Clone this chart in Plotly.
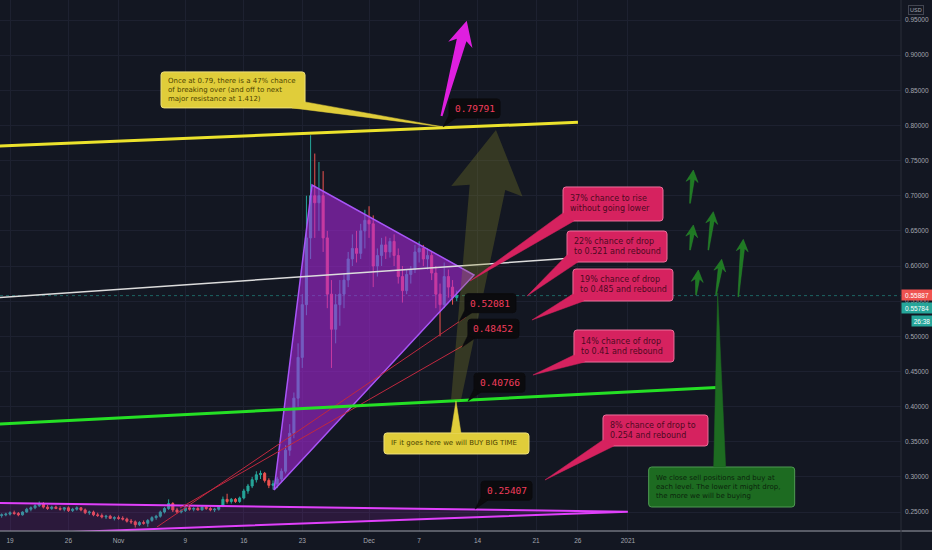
import math
import pandas as pd
import plotly.graph_objects as go

# ---------------- price data: 12h candles, XRP/USD ----------------
candle_open = [
    .246, .245, .246, .247, .249, .248, .246, .250, .254, .256, .259,
    .262, .257, .255, .257, .255, .254, .256, .252, .254, .256,
    .253, .249, .250, .246, .245, .243, .244, .241, .242, .241,
    .240, .237, .236, .232, .235, .234, .238, .242, .244, .250,
    .255, .262, .253, .250, .252, .256, .254, .255, .253, .257,
    .255, .253, .254, .258, .268, .265, .268, .265, .270, .280,
    .287, .296, .303, .305, .295, .288,
    .290, .297, .308, .338, .362, .412, .470, .545, .640, .700, .690, .700, .640, .560, .510,
    .545, .560, .580, .610, .625, .618, .650, .665, .660, .600, .615, .630, .620, .635, .615,
    .585, .565, .588, .595, .620, .625, .610, .615, .590, .560, .545, .585, .570, .555]
candle_high = [
    .248, .248, .249, .251, .252, .250, .251, .256, .258, .261, .265,
    .264, .260, .259, .259, .258, .257, .258, .256, .258, .257,
    .255, .252, .252, .249, .248, .246, .246, .244, .245, .244,
    .242, .240, .238, .237, .238, .240, .244, .246, .252, .257,
    .268, .264, .256, .254, .258, .260, .257, .258, .258, .259,
    .257, .256, .260, .272, .276, .270, .270, .272, .283, .290,
    .300, .308, .309, .307, .298, .295,
    .300, .312, .345, .375, .420, .490, .560, .700, .786, .760, .748, .735, .650, .580, .560,
    .580, .590, .620, .645, .650, .660, .680, .685, .672, .625, .640, .642, .640, .645, .625,
    .600, .595, .600, .630, .635, .630, .625, .620, .600, .575, .605, .595, .580, .565]
candle_low = [
    .243, .242, .244, .245, .246, .244, .245, .249, .251, .254, .257,
    .255, .253, .253, .254, .252, .251, .250, .250, .252, .251,
    .247, .246, .244, .243, .241, .240, .240, .238, .239, .238,
    .235, .233, .228, .230, .232, .229, .236, .239, .242, .248,
    .253, .250, .248, .248, .250, .252, .251, .252, .252, .253,
    .251, .250, .252, .257, .262, .262, .263, .263, .268, .276,
    .284, .292, .297, .292, .284, .282,
    .284, .293, .305, .330, .355, .400, .455, .530, .610, .640, .650, .620, .540, .455, .490,
    .515, .540, .570, .600, .605, .610, .625, .640, .570, .585, .600, .610, .612, .600, .575,
    .548, .560, .575, .590, .605, .600, .595, .580, .540, .500, .540, .555, .545, .550]
candle_close = [
    .245, .246, .247, .249, .248, .246, .250, .254, .256, .259, .262,
    .257, .255, .257, .255, .254, .256, .252, .254, .256, .253,
    .249, .250, .246, .245, .243, .244, .241, .242, .241, .240,
    .237, .236, .232, .235, .234, .238, .242, .244, .250, .255,
    .262, .253, .250, .252, .256, .254, .255, .253, .257, .255,
    .253, .254, .258, .268, .265, .268, .265, .270, .280, .287,
    .296, .303, .305, .295, .288, .290,
    .297, .308, .338, .362, .412, .470, .545, .640, .700, .690, .700, .640, .560, .510, .545,
    .560, .580, .610, .625, .618, .650, .665, .660, .600, .615, .630, .620, .635, .615, .585,
    .565, .588, .595, .620, .625, .610, .615, .590, .560, .545, .585, .570, .555, .558]
candle_time = pd.date_range("2020-10-17 12:00", periods=len(candle_close), freq="12h")

date_tick_values = ["2020-10-19", "2020-10-26", "2020-11-01", "2020-11-09", "2020-11-16",
                    "2020-11-23", "2020-12-01", "2020-12-07", "2020-12-14", "2020-12-21",
                    "2020-12-26", "2021-01-01"]
date_tick_labels = ["19", "26", "Nov", "9", "16", "23", "Dec", "7", "14", "21", "26", "2021"]
price_tick_values = [0.25, 0.30, 0.35, 0.40, 0.45, 0.50, 0.55, 0.60, 0.65, 0.70, 0.75,
                     0.80, 0.85, 0.90, 0.95]
price_tick_labels = ["0.25000", "0.30000", "0.35000", "0.40000", "0.45000", "0.50000",
                     "0.55000", "0.60000", "0.65000", "0.70000", "0.75000", "0.80000",
                     "0.85000", "0.90000", "0.95000"]
last_price = 0.55784
ask_price = 0.55887
bar_countdown = "26:38"

# ---------------- drawings (in data coordinates) ----------------
resistance_line = [("2020-10-15 00:00", 0.7694), ("2020-12-26 00:30", 0.8045)]
mid_line = [("2020-10-15 00:00", 0.5528), ("2020-12-25 21:36", 0.6117)]
support_line = [("2020-10-15 00:00", 0.3735), ("2021-01-11 15:07", 0.4272)]
channel_upper = [("2020-11-05 14:24", 0.2287), ("2020-12-12 14:38", 0.5275)]
channel_lower = [("2020-11-08 08:38", 0.2557), ("2020-12-12 14:38", 0.4891)]
pennant = [("2020-11-19 14:53", 0.2813), ("2020-11-24 04:05", 0.7153), ("2020-12-13 13:41", 0.5872)]
base_wedge = [("2020-10-15 00:00", 0.2633), ("2021-01-01 00:00", 0.2505), ("2020-10-15 00:00", 0.2166)]

level_label_tips = [("2020-12-09 20:38", 0.7979), ("2020-12-11 18:29", 0.5208),
                    ("2020-12-12 03:07", 0.4845), ("2020-12-12 20:24", 0.4077),
                    ("2020-12-13 16:33", 0.2541)]
level_label_texts = ["0.79791", "0.52081", "0.48452", "0.40766", "0.25407"]

pink_tips = [("2020-12-13 02:10", 0.5787), ("2020-12-19 22:05", 0.5573),
             ("2020-12-20 12:14", 0.5232), ("2020-12-20 15:07", 0.4449),
             ("2020-12-22 01:41", 0.2956)]
pink_texts = ["37% chance to rise<br>without going lower",
              "22% chance of drop<br>to 0.521 and rebound",
              "19% chance of drop<br>to 0.485 and rebound",
              "14% chance of drop<br>to 0.41 and rebound",
              "8% chance of drop to<br>0.254 and rebound"]

yellow_tips = [("2020-12-09 20:38", 0.7979), ("2020-12-11 09:50", 0.4080)]
yellow_texts = ["Once at 0.79, there is a 47% chance<br>of breaking over (and off to next<br>major resistance at 1.412)",
                "IF it goes here we will BUY BIG TIME"]

green_tip = ("2021-01-11 18:00", 0.5616)
green_text = "We close sell positions and buy at<br>each level. The lower it might drop,<br>the more we will be buying"

magenta_arrow_tail = ("2020-12-09 16:19", 0.8134)
olive_arrow_tail = ("2020-12-11 09:50", 0.4094)
green_arrow_tails = [("2021-01-08 10:34", 0.6892), ("2021-01-08 10:34", 0.6228),
                     ("2021-01-10 15:07", 0.6228), ("2021-01-09 03:50", 0.5588),
                     ("2021-01-11 13:12", 0.5588), ("2021-01-14 05:17", 0.5563)]

# ---------------- layout geometry (pixels relative to each anchor) ----------------
pink_boxes = [(93, -94, 193, -60), (40, -65, 140, -34), (41, -51, 141, -19),
              (41, -45, 141, -13), (58, -65, 163, -34)]
pink_wedges = [((93, -68), (104, -60)), ((40, -41), (51, -34)), ((41, -26), (52, -19)),
               ((41, -20), (52, -13)), ((58, -40), (69, -34))]
yellow_boxes = [(-282, -55, -138, -19), (-72, 32, 73, 53)]
yellow_wedges = [((-151, -19), (-138, -25)), ((-5, 32), (5, 32))]
green_box = (-69, 174, 77, 214)
green_wedge = ((-4, 174), (8, 174))
label_box = (6, -28, 57, -9)
label_wedge = ((6, -12), (13, -9))
green_arrow_vectors = [(3.3, 33.3), (3.3, 25), (5, 38.3), (2.3, 25), (5.7, 35.7), (5, 57.4)]

BG = "#131722"
GRID = "#1d2130"
AXTXT = "#a3a6af"

fig = go.Figure()
fig.add_trace(go.Candlestick(
    x=candle_time, open=candle_open, high=candle_high, low=candle_low, close=candle_close,
    increasing=dict(line=dict(color="#26a69a", width=1), fillcolor="#26a69a"),
    decreasing=dict(line=dict(color="#ef5350", width=1), fillcolor="#ef5350"),
    whiskerwidth=0, hoverinfo="skip", showlegend=False))


def add_poly(pts, fill, line_color, width):
    xs = [p[0] for p in pts] + [pts[0][0]]
    ys = [p[1] for p in pts] + [pts[0][1]]
    fig.add_trace(go.Scatter(x=xs, y=ys, mode="lines", fill="toself", fillcolor=fill,
                             line=dict(color=line_color, width=width),
                             hoverinfo="skip", showlegend=False))


def add_line(pts, color, width):
    fig.add_trace(go.Scatter(x=[p[0] for p in pts], y=[p[1] for p in pts], mode="lines",
                             line=dict(color=color, width=width),
                             hoverinfo="skip", showlegend=False))


add_poly(base_wedge, "rgba(156,39,176,0.18)", "#e040fb", 2)
add_poly(pennant, "rgba(170,40,220,0.58)", "#a855f7", 1.5)
add_line(channel_upper, "#c0283f", 1)
add_line(channel_lower, "#c0283f", 1)
add_line(mid_line, "#dcdcdc", 1.5)
add_line(resistance_line, "#ece22c", 3)
add_line(support_line, "#25e025", 3)


def path_from(points):
    return "M " + " L ".join(f"{x:.1f},{y:.1f}" for x, y in points) + " Z"


def rrect_path(box, r=3):
    x0, y0, x1, y1 = box
    T, B = -y0, -y1
    return (f"M {x0 + r},{T} L {x1 - r},{T} Q {x1},{T} {x1},{T - r} L {x1},{B + r} "
            f"Q {x1},{B} {x1 - r},{B} L {x0 + r},{B} Q {x0},{B} {x0},{B + r} "
            f"L {x0},{T - r} Q {x0},{T} {x0 + r},{T} Z")


def px_shape(anchor, path, fill, line_color=None, line_width=0):
    fig.add_shape(type="path", xref="x", yref="y", xsizemode="pixel", ysizemode="pixel",
                  xanchor=anchor[0], yanchor=anchor[1], path=path, fillcolor=fill,
                  line=dict(color=line_color or fill, width=line_width), layer="above")


def arrow_points(dx, dy, head_len, head_hw, shaft_hw, tail_hw, notch):
    L = math.hypot(dx, dy)
    ux, uy = dx / L, dy / L
    nx, ny = -uy, ux
    bx, by = dx - ux * head_len, dy - uy * head_len
    kx, ky = dx - ux * (head_len - notch), dy - uy * (head_len - notch)
    return [(-nx * tail_hw, -ny * tail_hw),
            (kx - nx * shaft_hw, ky - ny * shaft_hw),
            (bx - nx * head_hw, by - ny * head_hw),
            (dx, dy),
            (bx + nx * head_hw, by + ny * head_hw),
            (kx + nx * shaft_hw, ky + ny * shaft_hw),
            (nx * tail_hw, ny * tail_hw)]


def callout(anchor, box, wedge, text, fill, border, txt_color, size, center=False):
    (ax_, ay_), (bx_, by_) = wedge
    px_shape(anchor, rrect_path(box), fill, border, 1)
    px_shape(anchor, path_from([(0, 0), (ax_, -ay_), (bx_, -by_)]), fill, fill, 0.5)
    x0, y0, x1, y1 = box
    if center:
        fig.add_annotation(x=anchor[0], y=anchor[1], xref="x", yref="y", text=text,
                           showarrow=False, xanchor="center", yanchor="middle",
                           xshift=(x0 + x1) / 2, yshift=-(y0 + y1) / 2,
                           font=dict(family="DejaVu Sans Mono", size=size, color=txt_color))
    else:
        fig.add_annotation(x=anchor[0], y=anchor[1], xref="x", yref="y", text=text,
                           showarrow=False, xanchor="left", yanchor="middle", align="left",
                           xshift=x0 + 5, yshift=-(y0 + y1) / 2,
                           font=dict(family="DejaVu Sans", size=size, color=txt_color))


# translucent olive arrow
px_shape(olive_arrow_tail, path_from(arrow_points(40, 270, 62, 36, 18, 5, 4)),
         "rgba(150,150,40,0.26)")
# magenta arrow
px_shape(magenta_arrow_tail, path_from(arrow_points(25.2, 95.3, 25, 12.5, 5, 1, 5)), "#df1fdf")
# small green arrows
for tail, (vx, vy) in zip(green_arrow_tails, green_arrow_vectors):
    px_shape(tail, path_from(arrow_points(vx, vy, 12, 6, 2, 0.4, 3)), "#1f7a23", "#2b8a2f", 0.5)

# callouts
for tip, text, box, wedge in zip(yellow_tips, yellow_texts, yellow_boxes, yellow_wedges):
    callout(tip, box, wedge, text, "#e0cd3a", "#efe07a", "#4d4400", 7)
for tip, text, box, wedge in zip(pink_tips, pink_texts, pink_boxes, pink_wedges):
    callout(tip, box, wedge, text, "#d6225f", "#ee6f9b", "#4d0a22", 8)
callout(green_tip, green_box, green_wedge, green_text, "#1d6b21", "#4f9a52", "#0b250c", 7)
for tip, text in zip(level_label_tips, level_label_texts):
    callout(tip, label_box, label_wedge, text, "#0b0b0e", "#0b0b0e", "#f23d5c", 9.5, center=True)

# last price line
fig.add_shape(type="line", xref="paper", yref="y", x0=0, x1=1, y0=last_price, y1=last_price,
              line=dict(color="rgba(38,166,154,0.55)", width=1, dash="dot"), layer="below")
# axis frame lines
fig.add_shape(type="line", xref="paper", yref="paper", x0=0, x1=1.04, y0=0, y1=0,
              line=dict(color="#9ea1aa", width=1), layer="above")
fig.add_shape(type="line", xref="paper", yref="paper", x0=1, x1=1, y0=-0.04, y1=1,
              line=dict(color="#2a2e39", width=1), layer="above")

# price-scale labels
fig.add_annotation(xref="paper", yref="y", x=1.0, y=ask_price, xanchor="left", yanchor="middle",
                   text=f"{ask_price:.5f}", bgcolor="#ef5350", showarrow=False, width=28,
                   height=8, borderpad=1,
                   font=dict(family="Liberation Sans", size=6.5, color="white"))
fig.add_annotation(xref="paper", yref="y", x=1.0, y=last_price, xanchor="left", yanchor="middle",
                   text=f"{last_price:.5f}", bgcolor="#26a69a", showarrow=False, width=28,
                   height=8, borderpad=1, yshift=-12.7,
                   font=dict(family="Liberation Sans", size=6.5, color="white"))
fig.add_annotation(xref="paper", yref="y", x=1.011, y=last_price, xanchor="left", yanchor="middle",
                   text=bar_countdown, bgcolor="#26a69a", showarrow=False, width=18,
                   height=8, borderpad=1, yshift=-25,
                   font=dict(family="Liberation Sans", size=6.5, color="white"))
fig.add_annotation(xref="paper", yref="paper", x=1.0166, y=0.9812, xanchor="center",
                   yanchor="middle", text="USD", showarrow=False, bordercolor="#434651",
                   borderwidth=1, borderpad=1,
                   font=dict(family="Liberation Sans", size=5.5, color=AXTXT))

fig.update_layout(
    width=932, height=550, margin=dict(l=0, r=31, t=0, b=19),
    paper_bgcolor=BG, plot_bgcolor=BG, showlegend=False,
    xaxis=dict(type="date", range=["2020-10-17 19:15", "2021-02-02 16:58"],
               tickvals=date_tick_values, ticktext=date_tick_labels,
               showgrid=True, gridcolor=GRID, gridwidth=1, zeroline=False, showline=False,
               ticks="", ticklabelstandoff=4,
               tickfont=dict(family="Liberation Sans", size=6.5, color=AXTXT),
               rangeslider=dict(visible=False), fixedrange=True),
    yaxis=dict(side="right", range=[0.2230, 0.97845],
               tickvals=price_tick_values, ticktext=price_tick_labels,
               showgrid=True, gridcolor=GRID, gridwidth=1, zeroline=False, showline=False,
               ticks="", ticklabelstandoff=3,
               tickfont=dict(family="Liberation Sans", size=6.5, color=AXTXT),
               fixedrange=True),
)

fig.write_html("out.html", config={"displayModeBar": False},
               post_script="document.body.style.margin='0';document.body.style.background='#131722';")
